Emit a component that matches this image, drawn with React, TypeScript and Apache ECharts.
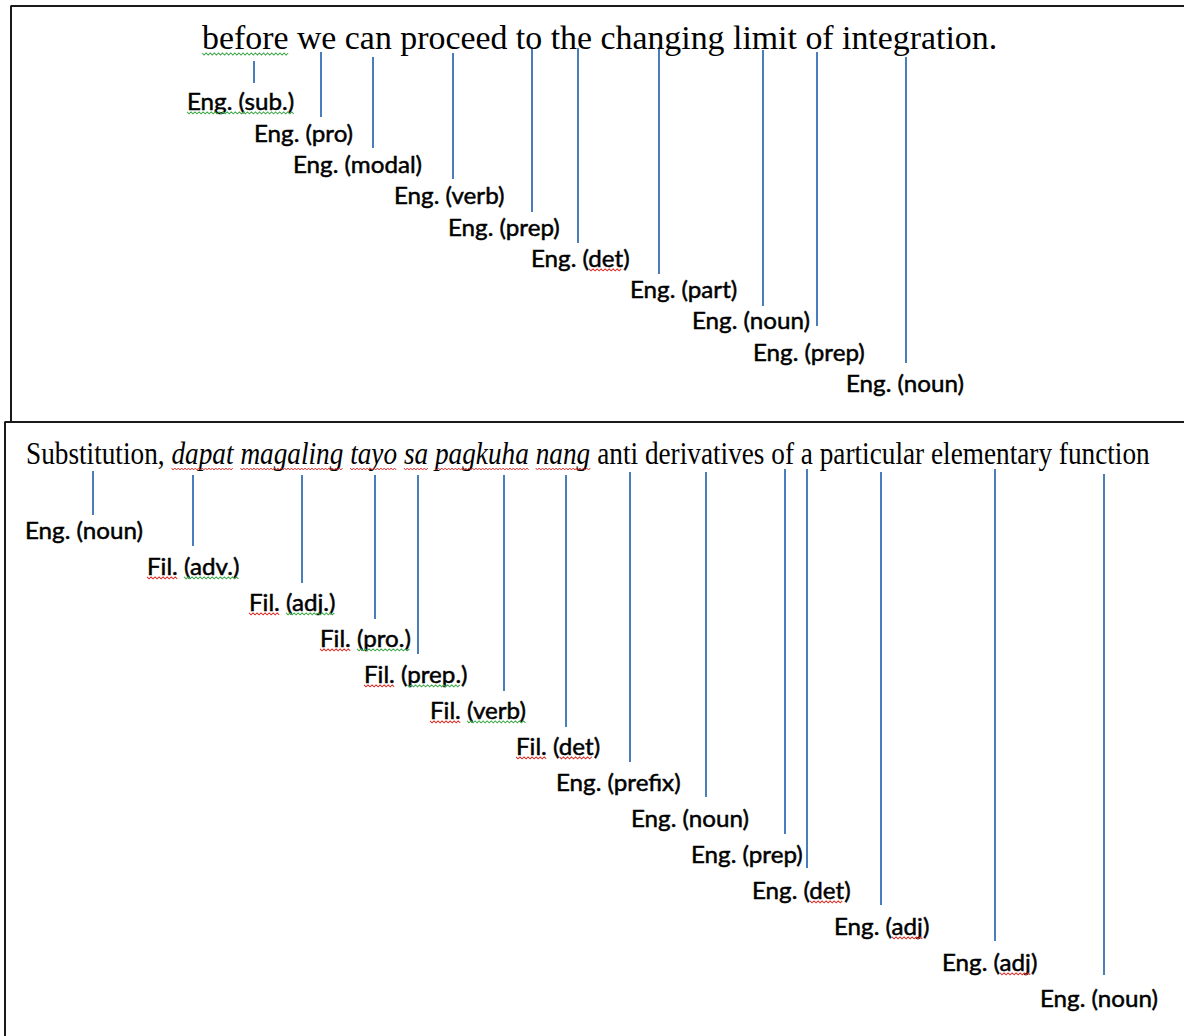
import React, { useEffect, useRef } from "react";
import * as echarts from "echarts";

const PAGE_W = 1184;
const PAGE_H = 1036;
const SERIF = '"Liberation Serif", "Times New Roman", serif';
const SANS = 'Lato, Carlito, Calibri, sans-serif';

// ---------- sentences ----------
const topSentence = ["before we can proceed to the changing limit of integration."];
const topSentenceItalic = [false];
const bottomSentence = [
  "Substitution, ",
  "dapat magaling tayo sa pagkuha nang",
  " anti derivatives of a particular elementary function",
];
const bottomSentenceItalic = [false, true, false];
// squiggles: [segment, start, end, colour]
const topSentenceMarks: [number, number, number, string][] = [[0, 0, 6, "g"]];
const bottomSentenceMarks: [number, number, number, string][] = [
  [1, 0, 5, "r"], [1, 6, 14, "r"], [1, 15, 19, "r"], [1, 20, 22, "r"], [1, 23, 30, "r"], [1, 31, 35, "r"],
];
const sentenceLeft = [202, 26];
const sentenceBaseline = [49, 464];
const sentenceWidth = [795, 1124];
const sentenceFont = [33, 32];

// ---------- tags ----------
const topTags = [
  "Eng. (sub.)", "Eng. (pro)", "Eng. (modal)", "Eng. (verb)", "Eng. (prep)",
  "Eng. (det)", "Eng. (part)", "Eng. (noun)", "Eng. (prep)", "Eng. (noun)",
];
const topTagLeft = [187, 254, 293, 394, 448, 531, 630, 692, 753, 846];
const topTagY = [101, 133, 164, 195, 227, 258, 289, 320, 352, 383];
const topTagMarks: [number, number, string][][] = [
  [[0, 11, "g"]], [], [], [], [], [[6, 9, "r"]], [], [], [], [],
];

const bottomTags = [
  "Eng. (noun)", "Fil. (adv.)", "Fil. (adj.)", "Fil. (pro.)", "Fil. (prep.)", "Fil. (verb)", "Fil. (det)",
  "Eng. (prefix)", "Eng. (noun)", "Eng. (prep)", "Eng. (det)", "Eng. (adj)", "Eng. (adj)", "Eng. (noun)",
];
const bottomTagLeft = [25, 147, 249, 320, 364, 430, 516, 556, 631, 691, 752, 834, 942, 1040];
const bottomTagY = [530, 566, 602, 638, 674, 710, 746, 782, 818, 854, 890, 926, 962, 998];
const bottomTagMarks: [number, number, string][][] = [
  [],
  [[0, 4, "r"], [5, 11, "g"]],
  [[0, 4, "r"], [5, 11, "g"]],
  [[0, 4, "r"], [5, 11, "g"]],
  [[0, 4, "r"], [6, 11, "g"]],
  [[0, 4, "r"], [5, 11, "g"]],
  [[0, 4, "r"], [6, 9, "r"]],
  [], [], [],
  [[6, 9, "r"]],
  [[6, 9, "r"]],
  [[6, 9, "r"]],
  [],
];

// ---------- leader lines ----------
const topLineX = [254, 321, 373, 453, 532, 578, 659, 763, 817, 906];
const topLineTop = [61, 52, 57, 53, 47, 48, 47, 50, 52, 57];
const topLineBottom = [83, 117, 148, 179, 212, 243, 274, 306, 326, 363];

const bottomLineX = [93, 193, 302, 375, 418, 504, 566, 630, 706, 785, 807, 881, 995, 1104];
const bottomLineTop = [471, 475, 475, 475, 475, 475, 475, 472, 472, 469, 469, 472, 469, 474];
const bottomLineBottom = [515, 546, 583, 619, 654, 691, 727, 762, 797, 834, 868, 905, 941, 975];

// ---------- frames ----------
const topFrame = [[11, 421], [11, 6], [1184, 6]];
const bottomFrame = [[5, 1036], [5, 422], [1184, 422]];

const LINE_BLUE = "#4a7ebb";
const SQ_COLORS: Record<string, string> = { r: "#e0302a", g: "#3ea84a" };
const TAG_SIZE = 24;
const TAG_REF = "Eng. (noun)";
const TAG_REF_WIDTH = 118;

let measureCtx: CanvasRenderingContext2D | null = null;
function measure(text: string, font: string): number {
  if (!measureCtx) measureCtx = document.createElement("canvas").getContext("2d");
  measureCtx!.font = font;
  return measureCtx!.measureText(text).width;
}

function squiggle(x0: number, x1: number, y: number, color: string) {
  const pts: number[][] = [];
  let up = true;
  for (let x = x0; x <= x1 + 0.01; x += 2) {
    pts.push([x, y + (up ? -1 : 1)]);
    up = !up;
  }
  return {
    type: "polyline",
    shape: { points: pts },
    style: { stroke: SQ_COLORS[color], lineWidth: 1, fill: null },
  };
}

export default function App() {
  const ref = useRef<HTMLDivElement>(null);
  useEffect(() => {
    if (!ref.current) return;
    const chart = echarts.init(ref.current, undefined, { renderer: "svg" });

    const tagScale = TAG_REF_WIDTH / measure(TAG_REF, `${TAG_SIZE}px ${SANS}`);

    const sentences = [topSentence, bottomSentence];
    const sentenceItalics = [topSentenceItalic, bottomSentenceItalic];
    const sentenceMarks = [topSentenceMarks, bottomSentenceMarks];
    const tagTexts = [topTags, bottomTags];
    const tagMarks = [topTagMarks, bottomTagMarks];

    const leaderData: number[][] = [];
    topLineX.forEach((x, i) => leaderData.push([x, topLineTop[i], topLineBottom[i]]));
    bottomLineX.forEach((x, i) => leaderData.push([x, bottomLineTop[i], bottomLineBottom[i]]));

    const tagData: number[][] = [];
    topTagLeft.forEach((x, i) => tagData.push([x, topTagY[i], 0, i]));
    bottomTagLeft.forEach((x, i) => tagData.push([x, bottomTagY[i], 1, i]));

    const sentenceData: number[][] = sentenceLeft.map((x, i) => [x, sentenceBaseline[i], i]);

    const option: any = {
      animation: false,
      backgroundColor: "#ffffff",
      grid: { left: 0, right: 0, top: 0, bottom: 0 },
      xAxis: { type: "value", min: 0, max: PAGE_W, show: false },
      yAxis: { type: "value", min: 0, max: PAGE_H, inverse: true, show: false },
      series: [
        {
          type: "line",
          data: topFrame,
          symbol: "none",
          silent: true,
          clip: false,
          lineStyle: { color: "#1a1a1a", width: 2 },
        },
        {
          type: "line",
          data: bottomFrame,
          symbol: "none",
          silent: true,
          clip: false,
          lineStyle: { color: "#1a1a1a", width: 2 },
        },
        {
          type: "custom",
          silent: true,
          data: leaderData,
          renderItem: (_p: any, api: any) => {
            const a = api.coord([api.value(0), api.value(1)]);
            const b = api.coord([api.value(0), api.value(2)]);
            return {
              type: "line",
              shape: { x1: a[0], y1: a[1], x2: b[0], y2: b[1] },
              style: { stroke: LINE_BLUE, lineWidth: 2 },
            };
          },
        },
        {
          type: "custom",
          silent: true,
          data: tagData,
          renderItem: (_p: any, api: any) => {
            const block = api.value(2) as number;
            const idx = api.value(3) as number;
            const p = api.coord([api.value(0), api.value(1)]);
            const text = tagTexts[block][idx];
            const font = `${TAG_SIZE}px ${SANS}`;
            const children: any[] = [
              {
                type: "text",
                x: 0,
                y: 0,
                style: {
                  text,
                  fontFamily: SANS,
                  fontSize: TAG_SIZE,
                  fill: "#000000",
                  stroke: "#000000",
                  lineWidth: 0.5,
                  align: "left",
                  verticalAlign: "middle",
                },
              },
            ];
            const baseOff = TAG_SIZE * 0.37;
            tagMarks[block][idx].forEach(([s, e, c]) => {
              const x0 = measure(text.slice(0, s), font);
              const x1 = measure(text.slice(0, e), font);
              children.push(squiggle(x0, x1, baseOff + 3, c));
            });
            return { type: "group", x: p[0], y: p[1], scaleX: tagScale, children };
          },
        },
        {
          type: "custom",
          silent: true,
          data: sentenceData,
          renderItem: (_p: any, api: any) => {
            const i = api.value(2) as number;
            const p = api.coord([api.value(0), api.value(1)]);
            const size = sentenceFont[i];
            const segs = sentences[i];
            const italics = sentenceItalics[i];
            const children: any[] = [];
            const offs: number[] = [];
            let off = 0;
            segs.forEach((s, k) => {
              const st = italics[k] ? "italic" : "normal";
              offs.push(off);
              children.push({
                type: "text",
                x: off,
                y: 0,
                style: {
                  text: s,
                  fontFamily: SERIF,
                  fontSize: size,
                  fontStyle: st,
                  fill: "#000000",
                  align: "left",
                  verticalAlign: "middle",
                },
              });
              off += measure(s, `${st} ${size}px ${SERIF}`);
            });
            const scale = sentenceWidth[i] / off;
            const centerOff = size * 0.3375;
            sentenceMarks[i].forEach(([k, s, e, c]) => {
              const st = italics[k] ? "italic" : "normal";
              const font = `${st} ${size}px ${SERIF}`;
              const x0 = offs[k] + measure(segs[k].slice(0, s), font);
              const x1 = offs[k] + measure(segs[k].slice(0, e), font);
              children.push(squiggle(x0, x1, centerOff + 5, c));
            });
            return { type: "group", x: p[0], y: p[1] - centerOff, scaleX: scale, children };
          },
        },
      ],
    };
    chart.setOption(option);
    return () => chart.dispose();
  }, []);

  return (
    <div
      ref={ref}
      style={{
        position: "absolute",
        left: 0,
        top: 0,
        width: PAGE_W,
        height: PAGE_H,
        background: "#ffffff",
      }}
    />
  );
}
